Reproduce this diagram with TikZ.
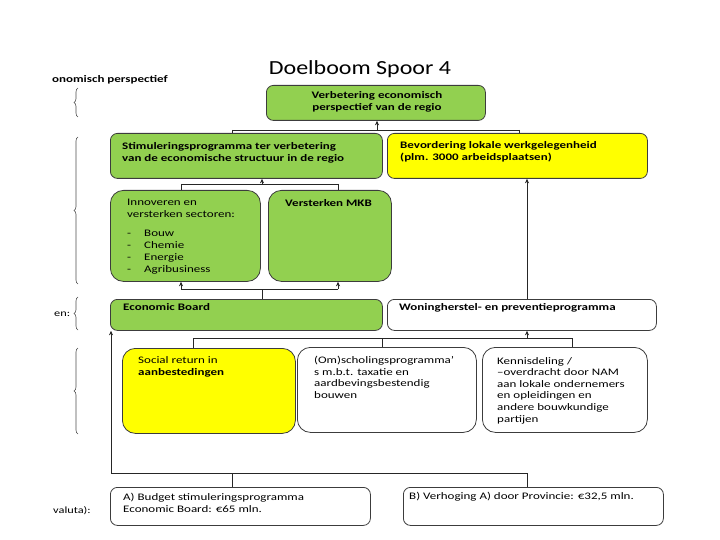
\documentclass[tikz,border=0pt]{standalone}
\usepackage{fontspec}
\setmainfont{Carlito}[FakeStretch=1.3]
\newfontfamily\titlefont{Carlito}[FakeStretch=1.2]
\usetikzlibrary{arrows.meta,decorations.pathreplacing}
\definecolor{lgreen}{RGB}{146,208,80}
\definecolor{yel}{RGB}{255,255,0}
\definecolor{edge}{RGB}{60,60,60}
\begin{document}
\begin{tikzpicture}[x=1pt,y=-1pt,
 box/.style={draw=edge,line width=0.8pt,anchor=north west,inner sep=0pt,rounded corners=7pt},
 tallbox/.style={box,rounded corners=13pt},
 greenbox/.style={fill=lgreen},
 yelbox/.style={fill=yel},
 whitebox/.style={fill=white},
 txt/.style={anchor=north west,inner sep=0pt,align=left,font=\fontsize{10}{12}\selectfont},
 conn/.style={draw=black!85,line width=0.7pt},
 arr/.style={conn,-{Stealth[length=4.5pt,width=4pt]}},
 brc/.style={draw=black!70,line width=0.6pt,decorate,decoration={brace,amplitude=4pt}},
 side/.style={anchor=west,inner sep=0pt,font=\fontsize{9.5}{11}\selectfont},
]
\useasboundingbox (0,0) rectangle (720,540);

% title
\node[font=\titlefont\fontsize{20}{24}\selectfont] (title) at (360,69) {Doelboom Spoor 4};

% side labels and braces
\node[side,font=\fontsize{10}{12}\selectfont\bfseries] (l1) at (52,80) {onomisch perspectief};
\node[side] (l2) at (54,314) {en:};
\node[side] (l3) at (53,511) {valuta):};
\draw[brc] (78,117) -- (78,88);
\draw[brc] (78,284) -- (78,137);
\draw[brc] (78,330) -- (78,297);
\draw[brc] (78,434) -- (78,348);

% boxes
\node[box,greenbox,minimum width=219pt,minimum height=35pt] (top) at (266,85) {};
\node[box,greenbox,minimum width=272pt,minimum height=45pt] (stim) at (110,133) {};
\node[box,yelbox,minimum width=260pt,minimum height=45pt] (bev) at (387,133) {};
\node[tallbox,greenbox,minimum width=150pt,minimum height=91pt] (inn) at (110,190) {};
\node[tallbox,greenbox,minimum width=123pt,minimum height=91pt] (mkb) at (268,190) {};
\node[box,greenbox,minimum width=272pt,minimum height=31pt] (eb) at (110,299) {};
\node[box,whitebox,minimum width=269pt,minimum height=31pt] (wh) at (387,299) {};
\node[tallbox,yelbox,minimum width=173pt,minimum height=85pt] (sr) at (122,348) {};
\node[tallbox,whitebox,minimum width=179pt,minimum height=85pt] (om) at (297,347) {};
\node[tallbox,whitebox,minimum width=165pt,minimum height=85pt] (kd) at (482,347) {};
\node[box,whitebox,minimum width=260pt,minimum height=38pt] (ba) at (110,487) {};
\node[box,whitebox,minimum width=260pt,minimum height=38pt] (bb) at (403,487) {};

% texts
\node[txt,align=center,anchor=north] (ttop) at (377,91) {\bfseries Verbetering economisch\\\bfseries perspectief van de regio};
\node[txt] (tstim) at (122,142) {\bfseries Stimuleringsprogramma ter verbetering\\\bfseries van de economische structuur in de regio};
\node[txt] (tbev) at (400,141) {\bfseries Bevordering lokale werkgelegenheid\\\bfseries (plm. 3000 arbeidsplaatsen)};
\node[txt] (tinn) at (127,199) {Innoveren en\\versterken sectoren:\\[7pt]
 \makebox[17pt][l]{-}Bouw\\\makebox[17pt][l]{-}Chemie\\\makebox[17pt][l]{-}Energie\\\makebox[17pt][l]{-}Agribusiness};
\node[txt] (tmkb) at (285,199) {\bfseries Versterken MKB};
\node[txt] (teb) at (123,303) {\bfseries Economic Board};
\node[txt] (twh) at (399,303) {\bfseries Woningherstel- en preventieprogramma};
\node[txt] (tsr) at (138,356) {Social return in\\\bfseries aanbestedingen};
\node[txt,font=\fontsize{10}{11.6}\selectfont] (tom) at (314,356) {(Om)scholingsprogramma’\\s m.b.t. taxatie en\\aardbevingsbestendig\\bouwen};
\node[txt,font=\fontsize{10}{11.6}\selectfont] (tkd) at (497,357) {Kennisdeling /\\–overdracht door NAM\\aan lokale ondernemers\\en opleidingen en\\andere bouwkundige\\partijen};
\node[txt] (tba) at (123,493) {A) Budget stimuleringsprogramma\\Economic Board: €65 mln.};
\node[txt] (tbb) at (409,492) {B) Verhoging A) door Provincie: €32,5 mln.};

% connectors level 1
\coordinate (j1) at (377,130);
\coordinate (j1l) at (232,130);
\coordinate (j1r) at (519,130);
\draw[conn] (j1l) -- (j1r);
\draw[conn] (j1l) -- (stim.north -| j1l);
\draw[conn] (j1r) -- (bev.north -| j1r);
\draw[arr] (j1) -- (top.south -| j1);

% level 2
\coordinate (j2) at (262,184);
\coordinate (j2l) at (181,184);
\coordinate (j2r) at (338,184);
\draw[conn] (j2l) -- (j2r);
\draw[conn] (j2l) -- (inn.north -| j2l);
\draw[conn] (j2r) -- (mkb.north -| j2r);
\draw[arr] (j2) -- (stim.south -| j2);

% level 3
\coordinate (j3) at (262,289);
\coordinate (j3l) at (181,289);
\coordinate (j3r) at (338,289);
\draw[conn] (j3l) -- (j3r);
\draw[arr] (j3l) -- (inn.south -| j3l);
\draw[arr] (j3r) -- (mkb.south -| j3r);
\draw[conn] (j3) -- (eb.north -| j3);
\coordinate (jw) at (527,299);
\draw[arr] (wh.north -| jw) -- (bev.south -| jw);

% level 4
\coordinate (j4) at (527,338);
\coordinate (j4l) at (193,338);
\coordinate (j4m) at (382,338);
\coordinate (j4r) at (572,338);
\draw[conn] (j4l) -- (j4r);
\draw[conn] (j4l) -- (sr.north -| j4l);
\draw[conn] (j4m) -- (om.north -| j4m);
\draw[conn] (j4r) -- (kd.north -| j4r);
\draw[arr] (j4) -- (wh.south -| j4);

% level 5
\coordinate (j5l) at (111,473);
\coordinate (j5a) at (232,473);
\coordinate (j5r) at (527,473);
\draw[conn] (j5l) -- (j5r);
\draw[conn] (j5a) -- (ba.north -| j5a);
\draw[conn] (j5r) -- (bb.north -| j5r);
\draw[arr] (j5l) -- (eb.south -| j5l);
\end{tikzpicture}
\end{document}
